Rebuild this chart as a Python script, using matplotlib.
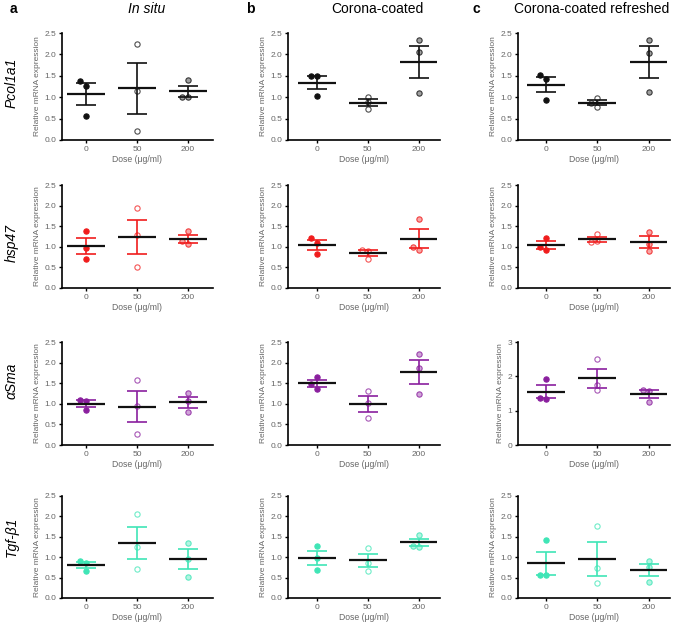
import numpy as np
import matplotlib.pyplot as plt
from matplotlib.colors import to_rgb

plt.rcParams['font.family'] = ['Liberation Sans', 'DejaVu Sans']

# categories and labels
doses = ["0", "50", "200"]
genes = ["Pcol1a1", "hsp47", "αSma", "Tgf-β1"]
conditions = ["In situ", "Corona-coated", "Corona-coated refreshed"]
letters = ["a", "b", "c"]
gene_colors = ["#111111", "#f01c1c", "#8a1f9e", "#3fe5b6"]

# replicate values per dose [0, 50, 200]
pcol1a1_insitu = [[1.27, 1.37, 0.57], [2.25, 1.14, 0.22], [1.40, 1.00, 1.00]]
pcol1a1_corona = [[1.49, 1.49, 1.03], [1.01, 0.89, 0.72], [2.33, 2.06, 1.10]]
pcol1a1_refresh = [[1.43, 1.52, 0.93], [0.97, 0.86, 0.77], [2.34, 2.03, 1.11]]

hsp47_insitu = [[1.38, 0.98, 0.71], [1.93, 1.28, 0.51], [1.39, 1.07, 1.13]]
hsp47_corona = [[1.10, 1.22, 0.82], [0.90, 0.93, 0.70], [1.67, 0.93, 1.00]]
hsp47_refresh = [[1.21, 0.92, 1.00], [1.30, 1.13, 1.12], [1.37, 1.07, 0.90]]

asma_insitu = [[1.06, 1.10, 0.86], [1.57, 0.95, 0.26], [1.26, 1.06, 0.80]]
asma_corona = [[1.64, 1.37, 1.47], [1.31, 1.01, 0.65], [2.22, 1.87, 1.23]]
asma_refresh = [[1.93, 1.33, 1.38], [2.50, 1.59, 1.75], [1.58, 1.25, 1.60]]

tgfb1_insitu = [[0.85, 0.91, 0.67], [2.07, 1.26, 0.71], [1.36, 0.96, 0.52]]
tgfb1_corona = [[1.28, 0.99, 0.69], [1.22, 0.87, 0.67], [1.55, 1.26, 1.28]]
tgfb1_refresh = [[1.42, 0.57, 0.57], [1.77, 0.73, 0.37], [0.91, 0.77, 0.38]]

y_max = [[2.5, 2.5, 2.5], [2.5, 2.5, 2.5], [2.5, 2.5, 3.0], [2.5, 2.5, 2.5]]

panels = [
    [pcol1a1_insitu, pcol1a1_corona, pcol1a1_refresh],
    [hsp47_insitu, hsp47_corona, hsp47_refresh],
    [asma_insitu, asma_corona, asma_refresh],
    [tgfb1_insitu, tgfb1_corona, tgfb1_refresh],
]

W, H = 676, 624
fig = plt.figure(figsize=(W / 100, H / 100), dpi=100)

# panel geometry in pixels
col_left = [62, 288, 518]
col_width = [151, 152, 152]
col_xlim = [(-0.47, 2.49), (-0.57, 2.42), (-0.55, 2.42)]
row_top = [33, 185, 342, 496]
row_bottom = [140, 288, 445, 598]

tick_grey = "#666666"


def lighter(c, f):
    r, g, b = to_rgb(c)
    return (r + (1 - r) * f, g + (1 - g) * f, b + (1 - b) * f)


for r in range(4):
    color = gene_colors[r]
    for c in range(3):
        h = row_bottom[r] - row_top[r]
        ax = fig.add_axes([col_left[c] / W, 1 - row_bottom[r] / H,
                           col_width[c] / W, h / H])
        ymax = y_max[r][c]
        ax.set_ylim(0, ymax)
        ax.set_xlim(*col_xlim[c])
        px_per_unit = h / ymax
        thr = 5.0 / px_per_unit
        dx = 6.0 / (col_width[c] / (col_xlim[c][1] - col_xlim[c][0]))

        for i, vals in enumerate(panels[r][c]):
            vals = np.array(vals)
            # simple swarm offsets so touching markers sit side by side
            placed = []
            xs = []
            for v in vals:
                for off in (0.0, -dx, dx):
                    if all(abs(v - pv) > thr or po != off for pv, po in placed):
                        break
                placed.append((v, off))
                xs.append(i + off)
            if i == 0:
                fc, ec = color, color
            elif i == 1:
                fc, ec = "white", lighter(color, 0.25)
            else:
                fc, ec = lighter(color, 0.6), lighter(color, 0.15)
            ax.plot(xs, vals, "o", ms=3.8, mfc=fc, mec=ec, mew=0.8,
                    ls="none", zorder=3)

            mean = vals.mean()
            sem = vals.std(ddof=1) / np.sqrt(len(vals))
            ax.errorbar([i], [mean], yerr=[sem], fmt="none", ecolor=color,
                        elinewidth=1.2, capsize=7, capthick=1.2, zorder=4)
            ax.plot([i - 0.37, i + 0.37], [mean, mean], color="#111111",
                    lw=1.6, zorder=5, solid_capstyle="butt")

        ax.set_xticks(range(3))
        ax.set_xticklabels(doses)
        if ymax == 3.0:
            ax.set_yticks([0, 1, 2, 3])
            ax.set_yticklabels(["0", "1", "2", "3"])
        else:
            ticks = np.arange(0, 2.51, 0.5)
            ax.set_yticks(ticks)
            ax.set_yticklabels([f"{t:.1f}" for t in ticks])
        for side in ("top", "right"):
            ax.spines[side].set_visible(False)
        for side in ("left", "bottom"):
            ax.spines[side].set_linewidth(1.2)
        ax.tick_params(axis="both", direction="out", length=2.5, width=1.0,
                       labelsize=6, labelcolor=tick_grey, pad=1.5)
        ax.set_ylabel("Relative mRNA expression", fontsize=6,
                      color=tick_grey, labelpad=2.5)
        ax.set_xlabel("Dose (μg/ml)", fontsize=6.2, color=tick_grey, labelpad=2)

# column headers
title_x = [147, 377, 592]
letter_x = [13, 250, 476]
for c in range(3):
    fig.text(letter_x[c] / W, 1 - 9 / H, letters[c], fontsize=10,
             fontweight="bold", ha="center", va="center")
    fig.text(title_x[c] / W, 1 - 9 / H, conditions[c], fontsize=10,
             ha="center", va="center",
             style="italic" if c == 0 else "normal")

# row labels
row_label_y = [83, 243, 381, 537]
for r in range(4):
    fig.text(12 / W, 1 - row_label_y[r] / H, genes[r], fontsize=10,
             style="italic", rotation=90, ha="center", va="center")

fig.savefig("out.png", dpi=100)
